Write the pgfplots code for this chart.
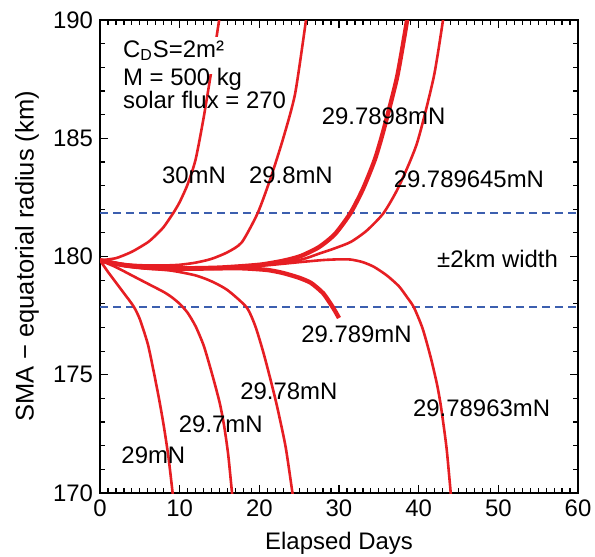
\documentclass[border=0pt]{standalone}
\usepackage{fontspec}
\setmainfont{Liberation Sans}
\usepackage{pgfplots}
\pgfplotsset{compat=1.18}
\definecolor{curve}{RGB}{230,30,35}
\definecolor{band}{RGB}{60,95,175}
\begin{document}
\begin{tikzpicture}[font=\fontsize{12}{14}\selectfont]
\useasboundingbox (-50bp,-32bp) rectangle (247.5bp,246.5bp);
\begin{axis}[
  width=239bp, height=236.5bp, scale only axis,
  xmin=0, xmax=60, ymin=170, ymax=190,
  xtick={0,10,...,60}, ytick={170,175,...,190},
  minor x tick num=9, minor y tick num=4,
  tick align=inside, major tick length=4bp, minor tick length=2.5bp,
  axis line style={line width=0.75bp},
  every tick/.style={black, line width=0.6bp},
  /pgf/number format/assume math mode=true,
  xlabel={Elapsed Days},
  ylabel={SMA − equatorial radius (km)},
  x label style={at={(axis description cs:0.5,-0.1057)}, anchor=center},
  y label style={at={(axis description cs:-0.1527,0.5)}, anchor=center,
    font=\fontsize{12.8}{14}\selectfont},
  crv/.style={curve, solid, mark=none, line width=1.3bp, smooth, tension=0.4},
  bnd/.style={band, solid, mark=none, dash pattern=on 4bp off 2.5bp, line width=0.9bp},
]
% +/- 2 km band
\addplot[bnd] coordinates {(0,181.85) (60,181.85)};
\addplot[bnd] coordinates {(0,177.87) (60,177.87)};

% 30mN
\addplot[crv] coordinates {(0,179.84) (2,179.93) (4,180.2) (6,180.6) (7,180.9) (8,181.25) (9.2,181.84) (10,182.3) (11,183.05) (12,184.1) (13,185.85) (14,187.9) (15,190.1)};
% 29.8mN
\addplot[crv] coordinates {(0,179.84) (2,179.72) (4,179.65) (6,179.62) (8,179.62) (10,179.65) (12,179.74) (14,179.9) (16,180.18) (17.8,180.6) (19.8,181.84) (21.4,183.3) (23,185.0) (24.5,186.9) (25.9,190.1)};
% 29.7898mN
\addplot[crv, line width=2.2bp] coordinates {(0,179.84) (3,179.64) (6,179.54) (10,179.5) (15,179.53) (20,179.65) (23,179.82) (25.2,180.02) (27.5,180.4) (29.5,180.95) (31.45,181.84) (33,182.85) (34.5,184.1) (35.6,185.35) (37.3,187.6) (38.6,190.1)};
% 29.789645mN
\addplot[crv] coordinates {(0,179.84) (3,179.64) (6,179.54) (10,179.5) (15,179.52) (20,179.63) (25,179.85) (27.5,180.12) (29.5,180.35) (31.5,180.62) (33.5,181.1) (35.6,181.84) (37.5,182.95) (39.8,184.8) (41.9,187.6) (43.1,190.1)};
% 29.78963mN
\addplot[crv] coordinates {(0,179.84) (3,179.63) (6,179.53) (10,179.49) (15,179.51) (20,179.6) (25,179.76) (28,179.85) (30,179.88) (31.5,179.87) (33,179.76) (34.4,179.56) (36,179.2) (37.5,178.75) (38.5,178.3) (39.4,177.85) (40.5,176.95) (41.5,175.75) (42.3,174.6) (42.8,173.65) (43.5,171.9) (44.05,169.9)};
% 29.789mN
\addplot[crv, line width=2.2bp] coordinates {(0,179.84) (3,179.63) (6,179.52) (10,179.48) (15,179.5) (18,179.5) (21,179.43) (23,179.3) (25,179.1) (26.5,178.88) (28,178.45) (29,177.97) (29.5,177.7) (30,177.4)};
% 29.78mN
\addplot[crv] coordinates {(0,179.84) (3,179.61) (6,179.49) (9,179.4) (12,179.2) (14,178.95) (16,178.58) (18.4,177.85) (19.5,177.05) (20.5,175.95) (21.4,174.8) (22.2,173.7) (23.3,171.95) (24.2,169.9)};
% 29.7mN
\addplot[crv] coordinates {(0,179.84) (2,179.55) (4,179.2) (6,178.85) (8,178.5) (9,178.28) (10,178.0) (11,177.62) (12,177.05) (13,176.25) (13.8,175.35) (14.5,174.5) (15.1,173.7) (15.6,172.8) (16.1,171.6) (16.6,169.9)};
% 29mN
\addplot[crv] coordinates {(0,179.84) (1,179.35) (2,178.9) (3,178.45) (4.2,177.9) (5,177.35) (6,176.3) (6.7,175.2) (7.4,174.0) (8,172.85) (8.6,171.5) (9.15,169.9)};

\fill[white] (axis cs:2.6,189.3) rectangle (axis cs:15.6,187.7);
\node[anchor=base west, inner sep=0pt] at (axis cs:2.85,188.42) {C\textsubscript{D}S=2m²};
\node[anchor=base west, inner sep=0pt] at (axis cs:2.85,187.25) {M = 500 kg};
\node[anchor=base west, inner sep=0pt] at (axis cs:2.85,186.27) {solar flux = 270};

\node[inner sep=0pt] at (axis cs:11.8,183.45) {30mN};
\node[inner sep=0pt] at (axis cs:23.96,183.45) {29.8mN};
\node[inner sep=0pt] at (axis cs:35.6,185.94) {29.7898mN};
\node[inner sep=0pt] at (axis cs:46.3,183.28) {29.789645mN};
\node[inner sep=0pt] at (axis cs:49.9,179.9) {±2km width};
\node[inner sep=0pt] at (axis cs:32.2,176.72) {29.789mN};
\node[inner sep=0pt] at (axis cs:47.9,173.58) {29.78963mN};
\node[inner sep=0pt] at (axis cs:23.7,174.31) {29.78mN};
\node[inner sep=0pt] at (axis cs:15.16,172.92) {29.7mN};
\node[inner sep=0pt] at (axis cs:6.7,171.6) {29mN};
\end{axis}
\end{tikzpicture}
\end{document}
